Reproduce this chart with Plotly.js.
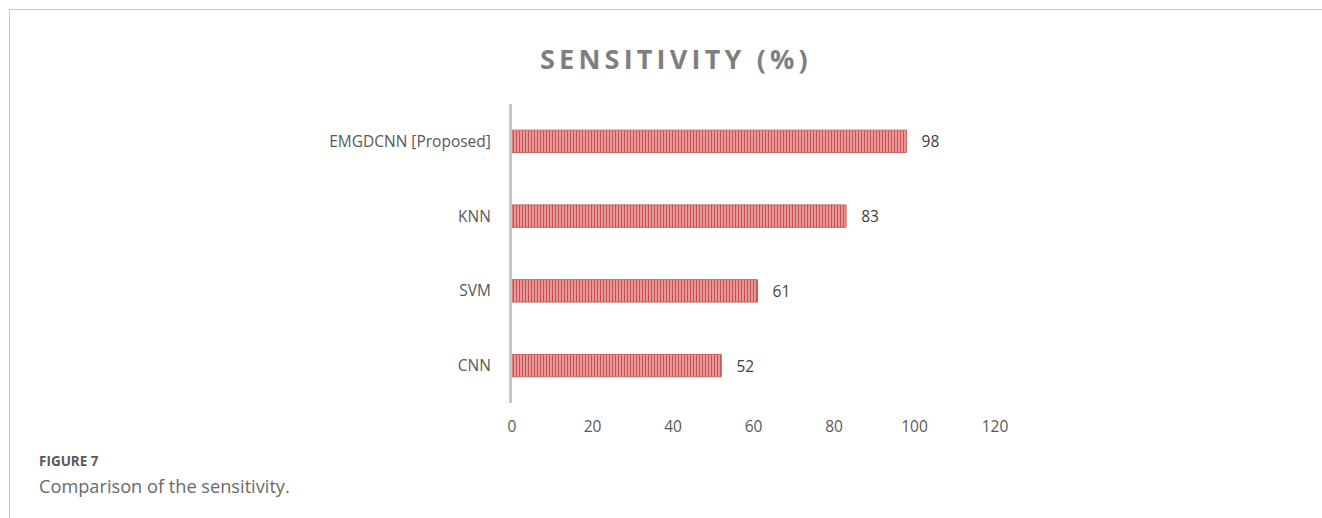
<!DOCTYPE html>
<html>
<head>
<meta charset="utf-8">
<script src="https://cdn.plot.ly/plotly-3.0.1.min.js"></script>
<style>
  html, body { margin: 0; padding: 0; background: #ffffff; }
  #wrap { position: relative; width: 1322px; height: 518px; overflow: hidden; }
  #frame { position: absolute; left: 9px; top: 9px; right: 0; bottom: 0;
           border-left: 1px solid #c8c8c8; border-top: 1px solid #c8c8c8; pointer-events: none; }
  #chart { position: absolute; left: 0; top: 0; width: 1322px; height: 518px; }
  .g-gtitle text { letter-spacing: 4.2px; }
</style>
</head>
<body>
<div id="wrap">
  <div id="chart"></div>
  <div id="frame"></div>
</div>
<script>
// Sensitivity (%) per method, listed bottom to top
const methods = ['CNN', 'SVM', 'KNN', 'EMGDCNN [Proposed]'];
const sensitivity = [52, 61, 83, 98];
const xTicks = [0, 20, 40, 60, 80, 100, 120];

const W = 1322, H = 518;
const plotLeft = 511.5, plotRight = 995, plotTop = 103.5, plotBottom = 403.5;
const pw = plotRight - plotLeft, ph = plotBottom - plotTop;
const px = x => (x - plotLeft) / pw;
const py = y => (plotBottom - y) / ph;

const trace = {
  type: 'bar',
  orientation: 'h',
  y: methods,
  x: sensitivity,
  width: 0.3,
  marker: {
    color: '#eeb3b2',
    line: { color: '#cf6062', width: 1 },
    pattern: { shape: '|', fgcolor: '#cc4f51', bgcolor: '#eeb0af', size: 3, solidity: 0.5 }
  },
  texttemplate: '   %{x}',
  textposition: 'outside',
  cliponaxis: false,
  textfont: { family: 'Open Sans, sans-serif', size: 15.5, color: '#404040' },
  hoverinfo: 'skip'
};

const layout = {
  width: W, height: H,
  margin: { l: plotLeft, r: W - plotRight, t: plotTop, b: H - plotBottom, pad: 0 },
  paper_bgcolor: 'rgba(0,0,0,0)',
  plot_bgcolor: 'rgba(0,0,0,0)',
  showlegend: false,
  title: {
    text: '<b>SENSITIVITY (%)</b>',
    font: { family: 'Open Sans, sans-serif', size: 27, color: '#7f7f7f' },
    xref: 'container', yref: 'container',
    x: 676 / W, y: 1 - 60 / H, xanchor: 'center', yanchor: 'middle'
  },
  xaxis: {
    range: [0, 120],
    tickvals: xTicks,
    ticktext: xTicks.map(String),
    showgrid: false, zeroline: false, showline: false,
    ticks: '', ticklabelstandoff: 12,
    tickfont: { family: 'Open Sans, sans-serif', size: 15.5, color: '#595959' },
    fixedrange: true
  },
  yaxis: {
    categoryorder: 'array', categoryarray: methods,
    range: [-0.5, methods.length - 0.5],
    showgrid: false, zeroline: false,
    showline: true, linecolor: '#c6c6c6', linewidth: 3,
    ticks: '', ticklabelstandoff: 15,
    tickfont: { family: 'Open Sans, sans-serif', size: 15.5, color: '#595959' },
    fixedrange: true
  },
  annotations: [
    {
      text: '<b>FIGURE 7</b>', showarrow: false,
      xref: 'paper', yref: 'paper', x: px(36), y: py(462),
      xanchor: 'left', yanchor: 'middle',
      font: { family: 'Open Sans, sans-serif', size: 13.5, color: '#5a5a5a' }
    },
    {
      text: 'Comparison of the sensitivity.', showarrow: false,
      xref: 'paper', yref: 'paper', x: px(36), y: py(487),
      xanchor: 'left', yanchor: 'middle',
      font: { family: 'Open Sans, sans-serif', size: 18.2, color: '#6a6a6a' }
    }
  ]
};

Plotly.newPlot('chart', [trace], layout, { staticPlot: true, displayModeBar: false });
</script>
</body>
</html>
